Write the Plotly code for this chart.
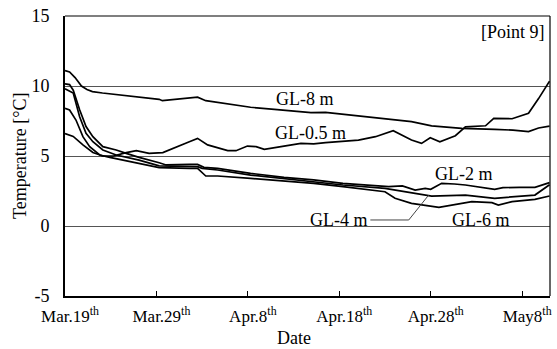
import pandas as pd
import plotly.graph_objects as go

# ---- data (day offset from Mar.19, temperature in °C) ----
gl8_days = [0, 0.5, 1.1, 1.8, 2.4, 3.0, 4.1, 6.7, 10.3, 10.65, 13.05, 14.5, 15.4, 17.4, 20.3, 22.9, 26.9, 28.5,
            34.0, 37.9, 40.1, 43.4, 47.0, 49.0, 50.7, 51.8, 53.0]
gl8_vals = [11.1, 11.0, 10.6, 10.0, 9.75, 9.6, 9.5, 9.3, 9.05, 8.95, 9.1, 9.2, 8.95, 8.76, 8.48, 8.33, 8.1, 8.12,
            7.75, 7.45, 7.15, 6.98, 6.9, 6.85, 6.74, 7.0, 7.14]

gl05_days = [0, 0.9, 1.96, 3.05, 4.14, 5.3, 6.7, 7.8, 9.2, 10.7, 13.6, 14.5, 15.6, 17.8, 18.7, 19.95, 20.9, 21.8,
             23.96, 25.8, 27.2, 28.5, 32.1, 33.96, 35.9, 37.9, 39.0, 39.95, 41.0, 42.7, 43.8, 46.0, 46.9, 48.9,
             50.7, 51.8, 53.0]
gl05_vals = [6.6, 6.4, 5.8, 5.25, 5.0, 5.0, 5.24, 5.38, 5.19, 5.24, 6.02, 6.26, 5.79, 5.38, 5.38, 5.71, 5.67, 5.48,
             5.71, 5.9, 5.86, 5.95, 6.14, 6.38, 6.81, 6.14, 5.9, 6.3, 6.02, 6.45, 7.08, 7.16, 7.69, 7.66,
             8.05, 9.1, 10.35]

gl2_days = [0, 0.5, 0.9, 1.6, 2.3, 3.05, 4.14, 5.6, 6.7, 8.1, 10.3, 11.06, 13.6, 14.5, 15.2, 16.7, 20.3, 23.96,
            27.2, 30.4, 35.4, 36.9, 38.3, 39.4, 40.0, 41.2, 42.6, 43.8, 47.0, 47.9, 49.7, 51.4, 53.0]
gl2_vals = [10.15, 10.1, 9.7, 8.3, 7.1, 6.38, 5.67, 5.43, 5.19, 4.9, 4.52, 4.36, 4.4, 4.4, 4.19, 4.12, 3.76, 3.48,
            3.29, 3.05, 2.81, 2.86, 2.57, 2.69, 2.62, 3.05, 3.0, 2.93, 2.62, 2.74, 2.76, 2.76, 3.1]

gl4_days = [0, 0.9, 1.6, 2.3, 3.05, 4.14, 5.6, 8.1, 10.3, 13.6, 14.5, 15.0, 16.7, 20.3, 23.96, 27.2, 30.4, 35.0,
            37.9, 40.1, 43.8, 47.0, 51.4, 53.0]
gl4_vals = [9.8, 9.5, 7.8, 6.62, 6.02, 5.43, 5.07, 4.71, 4.29, 4.24, 4.24, 4.12, 4.0, 3.64, 3.4, 3.17, 2.93, 2.69,
            2.38, 2.14, 2.21, 1.98, 2.21, 2.95]

gl6_days = [0, 0.5, 1.2, 1.96, 2.7, 3.8, 4.9, 6.7, 10.3, 13.6, 14.5, 15.4, 16.7, 20.3, 23.96, 27.2, 30.4, 35.0,
            36.1, 37.9, 40.9, 42.3, 44.5, 46.7, 47.4, 48.9, 51.4, 53.0]
gl6_vals = [8.4, 8.29, 7.57, 6.38, 5.67, 5.07, 4.9, 4.67, 4.17, 4.12, 4.12, 3.57, 3.57, 3.4, 3.2, 3.05, 2.81, 2.45,
            1.98, 1.62, 1.33, 1.5, 1.74, 1.67, 1.5, 1.74, 1.9, 2.14]

tick_days = [0, 10, 20, 30, 40, 50]
tick_text = ["Mar.19<sup>th</sup>", "Mar.29<sup>th</sup>", "Apr.8<sup>th</sup>",
             "Apr.18<sup>th</sup>", "Apr.28<sup>th</sup>", "May8<sup>th</sup>"]
y_tickvals = [-5, 0, 5, 10, 15]
y_ticktext = ["-5", "0", "5", "10", "15"]

base = pd.Timestamp("2010-03-19")


def to_dates(days):
    return [base + pd.Timedelta(days=d) for d in days]


FONT = "Liberation Serif"
FS = 18

fig = go.Figure()
for d, v in [(gl8_days, gl8_vals), (gl05_days, gl05_vals), (gl2_days, gl2_vals),
             (gl4_days, gl4_vals), (gl6_days, gl6_vals)]:
    fig.add_trace(go.Scatter(x=to_dates(d), y=v, mode="lines",
                             line=dict(color="black", width=1.7), showlegend=False,
                             hoverinfo="skip"))

labels = [("GL-8 m", 26.25, 9.07), ("GL-0.5 m", 26.9, 6.64), ("GL-2 m", 43.6, 3.75),
          ("GL-4 m", 29.95, 0.43), ("GL-6 m", 45.45, 0.43)]
annotations = []
for txt, dx, ty in labels:
    annotations.append(dict(x=base + pd.Timedelta(days=dx), y=ty, xref="x", yref="y", text=txt,
                            showarrow=False, font=dict(family=FONT, size=FS, color="black"),
                            xanchor="center", yanchor="middle"))
annotations.append(dict(x=1, y=1, xref="paper", yref="paper", text="[Point 9]", showarrow=False,
                        xanchor="right", yanchor="top", xshift=-3, yshift=-4,
                        font=dict(family=FONT, size=FS, color="black")))
annotations.append(dict(x=(295 - 65.3) / 486.4, y=0, xref="paper", yref="paper", text="Date",
                        showarrow=False, xanchor="center", yanchor="middle", yshift=-42,
                        font=dict(family=FONT, size=FS, color="black")))
annotations.append(dict(x=0, y=0.5, xref="paper", yref="paper", text="Temperature [°C]",
                        showarrow=False, xanchor="center", yanchor="middle", xshift=-45,
                        textangle=-90, font=dict(family=FONT, size=FS, color="black")))

# leader line for GL-4 m
lead_days = [33.4, 37.6, 39.77]
lead_vals = [0.43, 0.43, 2.2]
fig.add_trace(go.Scatter(x=to_dates(lead_days), y=lead_vals, mode="lines",
                         line=dict(color="#444", width=1), showlegend=False, hoverinfo="skip"))

shapes = [
    dict(type="line", xref="paper", yref="paper", x0=0, x1=1, y0=1, y1=1,
         line=dict(color="black", width=1.2)),
    dict(type="line", xref="paper", yref="paper", x0=1, x1=1, y0=0, y1=1,
         line=dict(color="black", width=1.2)),
]

fig.update_layout(
    width=557, height=349,
    margin=dict(l=65, r=5, t=16, b=53),
    paper_bgcolor="white", plot_bgcolor="white",
    font=dict(family=FONT, size=FS, color="black"),
    annotations=annotations, shapes=shapes,
    xaxis=dict(type="date", range=[base, base + pd.Timedelta(days=53.05)],
               tickvals=to_dates(tick_days), ticktext=tick_text,
               ticks="inside", ticklen=5, tickwidth=1, tickcolor="black",
               showgrid=False, zeroline=False, showline=True, linecolor="black", linewidth=2,
               ticklabelshift=5, ticklabelstandoff=4, ticklabeloverflow="allow",
               tickfont=dict(family=FONT, size=17, color="black")),
    yaxis=dict(range=[-5, 15], tickvals=y_tickvals, ticktext=y_ticktext, ticks="",
               showgrid=True, gridcolor="#555", gridwidth=1, zeroline=False,
               showline=True, linecolor="black", linewidth=2, ticklabelstandoff=10,
               tickfont=dict(family=FONT, size=FS, color="black")),
)

fig.write_html("out.html")
